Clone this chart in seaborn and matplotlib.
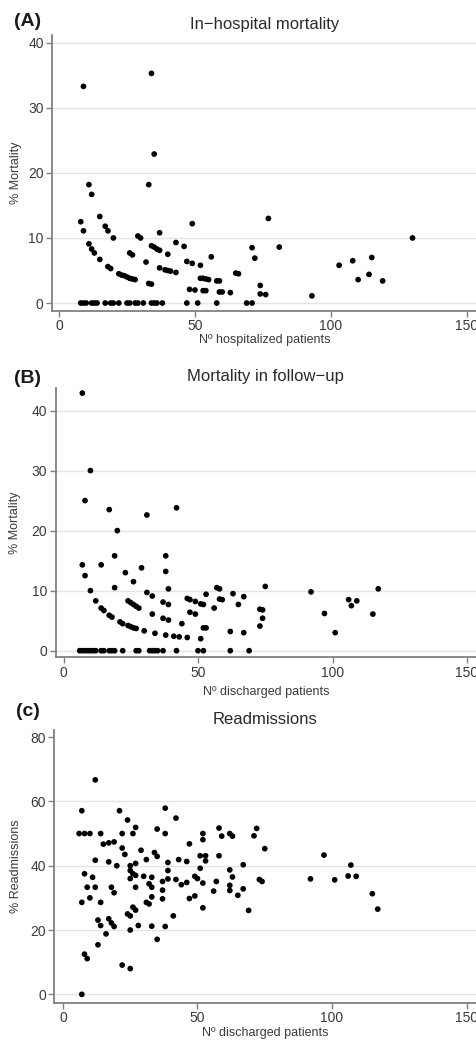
import matplotlib
matplotlib.use("Agg")
import matplotlib.pyplot as plt
import numpy as np
import pandas as pd
import seaborn as sns

# (A) in-hospital mortality vs number of hospitalized patients
hosp_n = [9, 34, 35, 33, 11, 12, 8, 9, 15, 17, 18, 20, 11, 12, 13, 15, 18, 19,
          22, 23, 24, 25, 26, 27, 28, 26, 27, 29, 30, 32, 33, 34, 34, 35, 36, 37,
          37, 37, 39, 40, 41, 43, 40, 43, 46, 49, 47, 49, 52, 56, 48, 50, 52, 53,
          54, 55, 53, 54, 58, 59, 59, 60, 63, 65, 66, 71, 72, 77, 81, 74, 74, 76,
          93, 103, 108, 110, 115, 114, 119, 130,
          8, 9, 10, 12, 13, 14, 17, 19, 20, 22, 25, 26, 28, 29, 31, 34, 35, 36,
          38, 47, 51, 58, 69, 71]
hosp_mortality = [33.3, 35.3, 22.9, 18.2, 18.2, 16.7, 12.5, 11.1, 13.3, 11.8, 11.1,
                  10.0, 9.1, 8.3, 7.7, 6.7, 5.6, 5.3, 4.5, 4.3, 4.2, 4.0, 3.8, 3.7,
                  3.6, 7.7, 7.4, 10.3, 10.0, 6.3, 3.0, 2.9, 8.8, 8.6, 8.3, 8.1, 10.8,
                  5.4, 5.1, 5.0, 4.9, 4.7, 7.5, 9.3, 8.7, 12.2, 6.4, 6.1, 5.8, 7.1,
                  2.1, 2.0, 3.8, 3.8, 3.7, 3.6, 1.9, 1.9, 3.4, 3.4, 1.7, 1.7, 1.6,
                  4.6, 4.5, 8.5, 6.9, 13.0, 8.6, 2.7, 1.4, 1.3, 1.1, 5.8, 6.5, 3.6,
                  7.0, 4.4, 3.4, 10.0,
                  0, 0, 0, 0, 0, 0, 0, 0, 0, 0, 0, 0, 0, 0, 0, 0, 0, 0,
                  0, 0, 0, 0, 0, 0]

# (B) mortality in follow-up vs number of discharged patients
fu_n = [7, 10, 8, 17, 31, 42, 20, 7, 8, 14, 19, 19, 10, 12, 14, 15, 17, 18, 21,
        22, 24, 25, 26, 27, 30, 34, 38, 41, 43, 46, 23, 26, 29, 24, 25, 26, 27,
        28, 31, 33, 33, 37, 37, 39, 39, 38, 38, 39, 44, 46, 47, 47, 49, 49, 51,
        52, 53, 52, 53, 51, 56, 57, 58, 58, 59, 63, 65, 67, 62, 67, 75, 73, 74,
        74, 73, 92, 97, 101, 106, 107, 109, 115, 117,
        6, 7, 8, 9, 10, 11, 12, 14, 15, 17, 18, 19, 22, 27, 28, 32, 33, 34, 35,
        37, 42, 50, 52, 62, 69]
fu_mortality = [42.9, 30.0, 25.0, 23.5, 22.6, 23.8, 20.0, 14.3, 12.5, 14.3, 15.8,
                10.5, 10.0, 8.3, 7.1, 6.7, 5.9, 5.6, 4.8, 4.5, 4.2, 4.0, 3.8, 3.7,
                3.3, 2.9, 2.6, 2.4, 2.3, 2.2, 13.0, 11.5, 13.8, 8.3, 8.0, 7.7, 7.4,
                7.1, 9.7, 9.1, 6.1, 8.1, 5.4, 7.7, 5.1, 15.8, 13.2, 10.3, 4.5, 8.7,
                8.5, 6.4, 6.1, 8.2, 7.8, 7.7, 9.4, 3.8, 3.8, 2.0, 7.1, 10.5, 10.3,
                8.6, 8.5, 9.5, 7.7, 9.0, 3.2, 3.0, 10.7, 6.9, 6.8, 5.4, 4.1, 9.8,
                6.2, 3.0, 8.5, 7.5, 8.3, 6.1, 10.3,
                0, 0, 0, 0, 0, 0, 0, 0, 0, 0, 0, 0, 0, 0, 0, 0, 0, 0, 0,
                0, 0, 0, 0, 0, 0]

# (c) readmissions vs number of discharged patients
readm_n = [12, 7, 21, 38, 42, 24, 6, 8, 10, 14, 22, 26, 27, 35, 38, 52, 52, 58,
           59, 62, 63, 15, 17, 19, 22, 23, 29, 34, 35, 47, 12, 17, 20, 25, 27, 31,
           39, 43, 46, 51, 53, 53, 58, 67, 8, 11, 25, 26, 25, 27, 30, 33, 37, 39,
           39, 42, 44, 46, 51, 49, 50, 52, 57, 56, 62, 63, 62, 62, 65, 67, 9, 12,
           18, 19, 27, 32, 33, 37, 7, 10, 14, 33, 31, 32, 37, 47, 49, 52, 41, 24,
           25, 26, 27, 13, 14, 17, 18, 19, 25, 28, 33, 38, 69, 8, 9, 7, 13, 16,
           22, 25, 35, 72, 71, 75, 73, 74, 92, 97, 101, 106, 107, 109, 115, 117]
readmissions = [66.7, 57.1, 57.1, 57.9, 54.8, 54.2, 50.0, 50.0, 50.0, 50.0, 50.0,
                50.0, 51.9, 51.4, 50.0, 50.0, 48.1, 51.7, 49.2, 50.0, 49.2, 46.7,
                47.1, 47.4, 45.5, 43.5, 44.8, 44.1, 42.9, 46.8, 41.7, 41.2, 40.0,
                40.0, 40.7, 41.9, 41.0, 41.9, 41.3, 43.1, 43.1, 41.5, 43.1, 40.3,
                37.5, 36.4, 38.5, 37.5, 36.0, 37.0, 36.7, 36.4, 35.1, 35.9, 38.5,
                35.7, 34.1, 34.8, 39.2, 36.7, 36.0, 34.6, 35.1, 32.1, 38.7, 36.5,
                33.9, 32.3, 30.8, 32.8, 33.3, 33.3, 33.3, 31.6, 33.3, 34.4, 33.3,
                32.4, 28.6, 30.0, 28.6, 30.3, 28.6, 28.1, 29.7, 29.8, 30.6, 26.9,
                24.4, 25.0, 24.4, 27.1, 26.2, 23.1, 21.4, 23.5, 22.2, 21.1, 20.0,
                21.4, 21.2, 21.1, 26.1, 12.5, 11.1, 0.0, 15.4, 18.8, 9.1, 8.0, 17.1,
                51.6, 49.3, 45.3, 35.7, 35.1, 35.9, 43.3, 35.6, 36.8, 40.2, 36.7,
                31.3, 26.5]

sns.set_style("white")
plt.rcParams["font.family"] = ["Liberation Sans", "DejaVu Sans"]

W, H = 477, 1042
fig = plt.figure(figsize=(W / 100, H / 100), dpi=100)
fig.patch.set_facecolor("white")

SPINE = "#808080"
TEXT = "#3a3a3a"


def px_axes(left, top, bottom):
    return fig.add_axes([left / W, 1 - bottom / H, (W - left) / W, (bottom - top) / H])


def panel(ax, x, y, xlim, ylim, yticks, title, tag, ylabel, xlabel,
          title_y, tag_y, hide_top_grid=False):
    sns.scatterplot(x=x, y=y, ax=ax, color="black", s=17, edgecolor="none",
                    linewidth=0, legend=False)
    ax.set_xlim(*xlim)
    ax.set_ylim(*ylim)
    ax.set_xticks([0, 50, 100, 150])
    ax.set_yticks(yticks)
    ax.grid(axis="y", color="#e4e4e4", linewidth=1.0)
    ax.grid(axis="x", visible=False)
    ax.set_axisbelow(True)
    if hide_top_grid:
        ax.get_ygridlines()[-1].set_visible(False)
    for s in ("top", "right"):
        ax.spines[s].set_visible(False)
    for s in ("left", "bottom"):
        ax.spines[s].set_color(SPINE)
        ax.spines[s].set_linewidth(1.3)
    ax.tick_params(axis="both", direction="out", length=4, width=1,
                   bottom=True, left=True,
                   color=SPINE, labelcolor=TEXT, labelsize=10, pad=2)
    ax.set_ylabel(ylabel, fontsize=9, color=TEXT, va="center")
    ax.set_xlabel(xlabel, fontsize=9, color=TEXT, va="center")
    fig.text(265 / W, 1 - title_y / H, title, ha="center", va="center",
             fontsize=12, color="#2a2a2a")
    fig.text(28 / W, 1 - tag_y / H, tag, ha="center", va="center",
             fontsize=14, fontweight="bold", color="#1a1a1a")


# panel A
axA = px_axes(52, 35, 310.7)
panel(axA, hosp_n, hosp_mortality, (-2.57, 153.7), (-1.18, 41.2),
      [0, 10, 20, 30, 40], "In\u2212hospital mortality", "(A)", "% Mortality",
      "N\u00ba hospitalized patients", 25, 21)
axA.yaxis.set_label_coords((16 - 52) / (W - 52), 0.5)
axA.xaxis.set_label_coords(0.5, -(340 - 310.7) / (310.7 - 35))

# panel B
axB = px_axes(55.7, 387.7, 657.3)
panel(axB, fu_n, fu_mortality, (-2.9, 153.7), (-1.1, 43.8),
      [0, 10, 20, 30, 40], "Mortality in follow\u2212up", "(B)", "% Mortality",
      "N\u00ba discharged patients", 376, 378)
axB.yaxis.set_label_coords((15 - 55.7) / (W - 55.7), 0.5)
axB.xaxis.set_label_coords(0.5, -(692 - 657.3) / (657.3 - 387.7))

# panel C
axC = px_axes(54.3, 730, 1002.7)
panel(axC, readm_n, readmissions, (-3.23, 153.9), (-2.6, 82.2),
      [0, 20, 40, 60, 80], "Readmissions", "(c)", "% Readmissions",
      "N\u00ba discharged patients", 720, 712, hide_top_grid=True)
axC.yaxis.set_label_coords((16 - 54.3) / (W - 54.3), 0.5)
axC.xaxis.set_label_coords(0.5, -(1033 - 1002.7) / (1002.7 - 730))

fig.savefig("out.png", dpi=100, facecolor="white")
